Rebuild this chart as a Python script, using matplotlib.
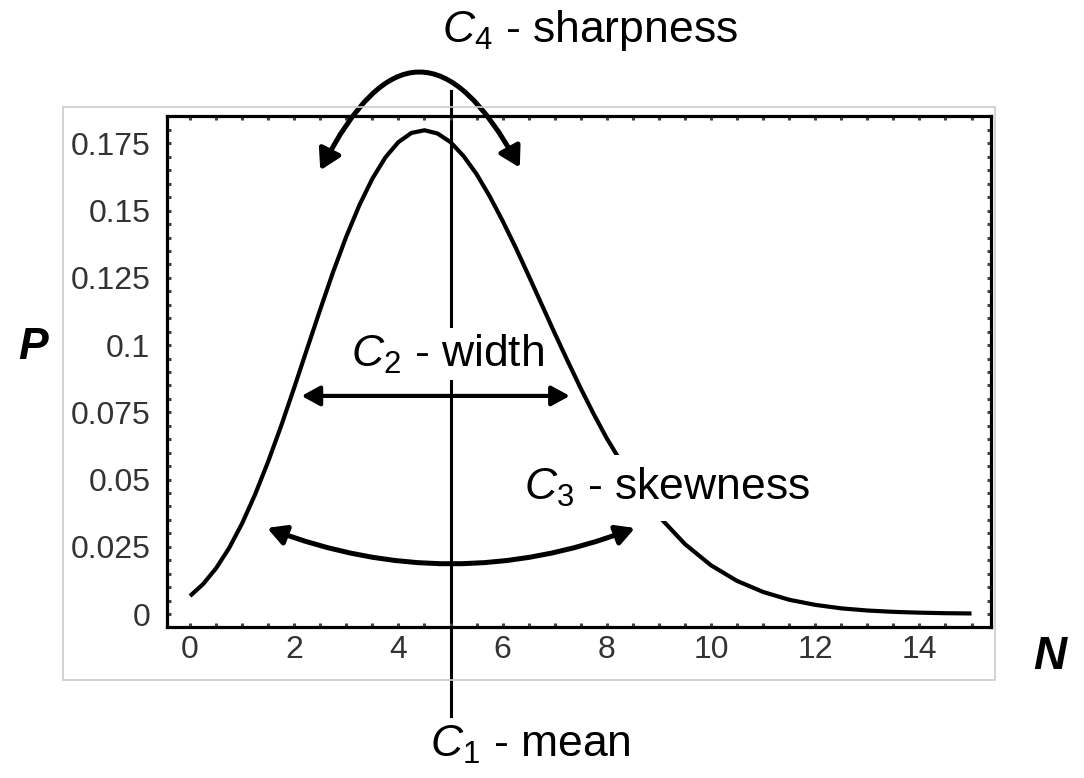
import matplotlib
matplotlib.use("Agg")
import matplotlib.pyplot as plt
from matplotlib.patches import Rectangle

# Distribution (N on x, P on y)
n_values = [0, 0.25, 0.5, 0.75, 1, 1.25, 1.5, 1.75, 2, 2.25, 2.5, 2.75, 3, 3.25,
            3.5, 3.75, 4, 4.25, 4.5, 4.75, 5, 5.25, 5.5, 5.75, 6, 6.25, 6.5,
            6.75, 7, 7.25, 7.5, 7.75, 8, 8.5, 9, 9.5, 10, 10.5, 11, 11.5, 12,
            12.5, 13, 13.5, 14, 14.5, 15]
p_values = [0.0067, 0.0111, 0.017, 0.0245, 0.0337, 0.0445, 0.0567, 0.07, 0.0842,
            0.0988, 0.1133, 0.1274, 0.1404, 0.152, 0.1619, 0.1698, 0.1755,
            0.1789, 0.1799, 0.1787, 0.1755, 0.1703, 0.1636, 0.1554, 0.1462,
            0.1363, 0.1258, 0.1151, 0.1044, 0.094, 0.0839, 0.0743, 0.0653,
            0.0493, 0.0363, 0.026, 0.0181, 0.0123, 0.0082, 0.0053, 0.0034,
            0.0021, 0.0013, 0.0008, 0.0005, 0.0003, 0.0002]

mean_n = 5
x_ticks = [0, 2, 4, 6, 8, 10, 12, 14]
y_ticks = [0, 0.025, 0.05, 0.075, 0.1, 0.125, 0.15, 0.175]
y_tick_labels = ['0', '0.025', '0.05', '0.075', '0.1', '0.125', '0.15', '0.175']

plt.rcParams['font.family'] = ['Liberation Sans', 'DejaVu Sans']
plt.rcParams['mathtext.fontset'] = 'custom'
plt.rcParams['mathtext.it'] = 'Liberation Sans:italic'
plt.rcParams['mathtext.rm'] = 'Liberation Sans'

fig = plt.figure(figsize=(10.84, 7.78), dpi=100)
ax = fig.add_axes([0.1541, 0.1941, 0.7601, 0.6568])

# light grey frame around the plot (like the pasted Mathematica graphic)
fig.patches.append(Rectangle((0.0581, 0.126), 0.8598, 0.7365, transform=fig.transFigure,
                             fill=False, edgecolor='#cccccc', linewidth=1.2, zorder=0))

ax.plot(n_values, p_values, color='black', linewidth=3, solid_joinstyle='round',
        solid_capstyle='butt', zorder=2)

# mean line, runs past the axes on both sides
ax.plot([mean_n, mean_n], [-0.0379, 0.1945], color='black', linewidth=2.2,
        clip_on=False, zorder=1)

ax.set_xlim(-0.441, 15.374)
ax.set_ylim(-0.00483, 0.1852)

ax.set_xticks(x_ticks)
ax.set_xticklabels([str(t) for t in x_ticks])
ax.set_yticks(y_ticks)
ax.set_yticklabels(y_tick_labels)
ax.set_xticks([i * 0.5 for i in range(31)], minor=True)
ax.set_yticks([i * 0.005 for i in range(37)], minor=True)

for side in ['left', 'right', 'top', 'bottom']:
    ax.spines[side].set_linewidth(2.3)
    ax.spines[side].set_color('black')

ax.tick_params(which='both', direction='in', length=3, width=2.2, color='#444444',
               top=True, right=True)
ax.tick_params(axis='x', which='major', pad=6)
ax.tick_params(axis='y', which='major', pad=12)
for lbl in ax.get_xticklabels() + ax.get_yticklabels():
    lbl.set_fontsize(23)
    lbl.set_color('#333333')

# annotations
txt_kw = dict(fontsize=32, color='black', ha='center', va='center')
ax.text(4.95, 0.0967, r'$C_2$ - width', zorder=3,
        bbox=dict(boxstyle='square,pad=0.1', facecolor='white', edgecolor='none'), **txt_kw)
ax.text(9.16, 0.0469, r'$C_3$ - skewness', zorder=3,
        bbox=dict(boxstyle='square,pad=0.25', facecolor='white', edgecolor='none'), **txt_kw)

fig.text(0.5443, 0.961, r'$C_4$ - sharpness', **txt_kw)
fig.text(0.489, 0.042, r'$C_1$ - mean', **txt_kw)
fig.text(0.0304, 0.5527, 'P', fontsize=32, fontweight='bold', fontstyle='italic',
         ha='center', va='center')
fig.text(0.9686, 0.1555, 'N', fontsize=33, fontweight='bold', fontstyle='italic',
         ha='center', va='center')

# sharpness arc (top)
ax.annotate('', xy=(6.33, 0.166), xytext=(2.5, 0.165), annotation_clip=False,
            arrowprops=dict(arrowstyle='<|-|>,head_length=0.6,head_width=0.35',
                            connectionstyle='arc3,rad=-0.95', color='black',
                            linewidth=3.6, mutation_scale=20, shrinkA=0, shrinkB=0),
            zorder=4)
# width arrow
ax.annotate('', xy=(7.29, 0.0811), xytext=(2.14, 0.0811),
            arrowprops=dict(arrowstyle='<|-|>,head_length=0.55,head_width=0.3',
                            color='black', linewidth=3, mutation_scale=20,
                            shrinkA=0, shrinkB=0),
            zorder=4)
# skewness arc (bottom)
ax.annotate('', xy=(8.54, 0.032), xytext=(1.48, 0.032),
            arrowprops=dict(arrowstyle='<|-|>,head_length=0.55,head_width=0.3',
                            connectionstyle='arc3,rad=0.19', color='black',
                            linewidth=3.6, mutation_scale=20, shrinkA=0, shrinkB=0),
            zorder=4)

fig.savefig('out.png', dpi=100)
